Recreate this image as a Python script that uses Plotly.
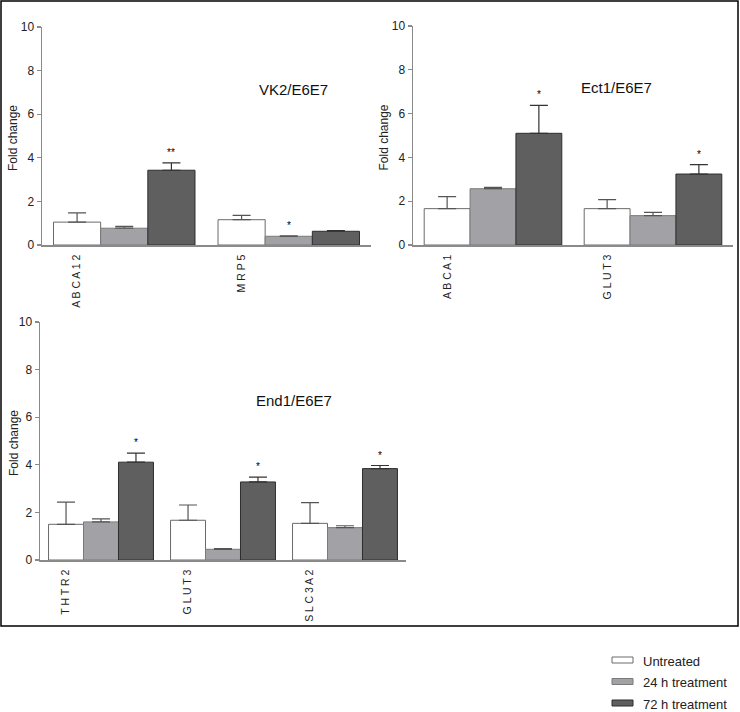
import plotly.graph_objects as go

W, H = 740, 712

# ---------------- data ----------------
series_names = ["Untreated", "24 h treatment", "72 h treatment"]

vk2_genes = ["ABCA12", "MRP5"]
vk2_untreated = [1.05, 1.16]
vk2_untreated_err = [0.42, 0.20]
vk2_24h = [0.77, 0.40]
vk2_24h_err = [0.08, 0.02]
vk2_72h = [3.43, 0.63]
vk2_72h_err = [0.34, 0.03]
vk2_stars = [["", "", "**"], ["", "*", ""]]

ect1_genes = ["ABCA1", "GLUT3"]
ect1_untreated = [1.66, 1.66]
ect1_untreated_err = [0.55, 0.41]
ect1_24h = [2.57, 1.34]
ect1_24h_err = [0.06, 0.15]
ect1_72h = [5.10, 3.24]
ect1_72h_err = [1.28, 0.43]
ect1_stars = [["", "", "*"], ["", "", "*"]]

end1_genes = ["THTR2", "GLUT3", "SLC3A2"]
end1_untreated = [1.50, 1.67, 1.54]
end1_untreated_err = [0.93, 0.64, 0.87]
end1_24h = [1.60, 0.45, 1.36]
end1_24h_err = [0.13, 0.03, 0.08]
end1_72h = [4.11, 3.28, 3.84]
end1_72h_err = [0.38, 0.20, 0.13]
end1_stars = [["", "", "*"], ["", "", "*"], ["", "", "*"]]

y_ticks = [0, 2, 4, 6, 8, 10]

# ---------------- style ----------------
fills = ["#ffffff", "#a2a2a6", "#5f5f5f"]
edges = ["#6a6a6a", "#7a7a7a", "#2e2e2e"]
errcols = ["#555555", "#555555", "#333333"]
AXCOL = "#8a8a8a"
SANS = "Liberation Sans, Arial, sans-serif"
NARROW = "Liberation Sans Narrow, Arial Narrow, Liberation Sans, Arial, sans-serif"
BARGAP = 0.14


def px_x(p):
    return p / W


def px_y(p):
    return 1 - p / H


panels = [
    dict(title="VK2/E6E7", genes=vk2_genes,
         vals=[vk2_untreated, vk2_24h, vk2_72h],
         errs=[vk2_untreated_err, vk2_24h_err, vk2_72h_err],
         stars=vk2_stars, xdom=(42, 371), ydom=(27, 245),
         title_xy=(293, 89), ytitle_x=13, tickfont=NARROW),
    dict(title="Ect1/E6E7", genes=ect1_genes,
         vals=[ect1_untreated, ect1_24h, ect1_72h],
         errs=[ect1_untreated_err, ect1_24h_err, ect1_72h_err],
         stars=ect1_stars, xdom=(413, 733), ydom=(26, 245),
         title_xy=(616, 88), ytitle_x=383, tickfont=SANS),
    dict(title="End1/E6E7", genes=end1_genes,
         vals=[end1_untreated, end1_24h, end1_72h],
         errs=[end1_untreated_err, end1_24h_err, end1_72h_err],
         stars=end1_stars, xdom=(40, 406), ydom=(322, 560),
         title_xy=(294, 400), ytitle_x=14, tickfont=NARROW),
]

fig = go.Figure()
annotations = []
shapes = []
bw = (1 - BARGAP) / 3

for k, p in enumerate(panels):
    idx = "" if k == 0 else str(k + 1)
    xa, ya = "x" + idx, "y" + idx
    n = len(p["genes"])
    xs = list(range(n))
    for s in range(3):
        fig.add_trace(go.Bar(
            x=xs, y=p["vals"][s], name=series_names[s], xaxis=xa, yaxis=ya,
            marker=dict(color=fills[s], line=dict(color=edges[s], width=1)),
            error_y=dict(type="data", array=p["errs"][s], arrayminus=[0] * n,
                         symmetric=False, color=errcols[s], thickness=1.2, width=9),
            showlegend=False, hoverinfo="skip"))
        # significance marks
        for i in range(n):
            st = p["stars"][i][s]
            if st:
                annotations.append(dict(
                    x=i + (s - 1) * bw, y=p["vals"][s][i] + p["errs"][s][i],
                    xref=xa, yref=ya, text=st, showarrow=False,
                    xanchor="center", yanchor="bottom", yshift=3,
                    font=dict(family=SANS, size=10, color="#000000")))
    x0, x1 = p["xdom"]
    y0, y1 = p["ydom"]
    fig.update_layout(**{
        "xaxis" + idx: dict(
            domain=[px_x(x0), px_x(x1)], anchor=ya, range=[-0.5, n - 0.5],
            automargin=False,
            showline=True, linecolor=AXCOL, linewidth=1.5, showgrid=False,
            zeroline=False, ticks="", tickangle=-90, ticklabelstandoff=4,
            tickvals=[i - bw for i in xs],
            ticktext=[" ".join(g) for g in p["genes"]],
            tickfont=dict(family=SANS, size=10.5, color="#222222"), fixedrange=True),
        "yaxis" + idx: dict(
            domain=[px_y(y1), px_y(y0)], anchor=xa, range=[0, 10],
            automargin=False,
            tickvals=y_ticks, showline=True, linecolor=AXCOL, linewidth=1.5,
            showgrid=False, zeroline=False, ticks="outside", ticklen=4,
            tickcolor=AXCOL, tickwidth=1.2,
            tickfont=dict(family=p["tickfont"], size=12, color="#222222"),
            fixedrange=True),
    })
    tx, ty = p["title_xy"]
    annotations.append(dict(x=px_x(tx), y=px_y(ty), xref="paper", yref="paper",
                            text=p["title"], showarrow=False,
                            xanchor="center", yanchor="middle",
                            font=dict(family=SANS, size=15, color="#111111")))
    annotations.append(dict(x=px_x(p["ytitle_x"]), y=px_y((y0 + y1) / 2 + 2),
                            xref="paper", yref="paper", text="Fold change",
                            textangle=-90, showarrow=False,
                            xanchor="center", yanchor="middle",
                            font=dict(family=SANS, size=12, color="#222222")))

# outer frame
shapes.append(dict(type="rect", xref="paper", yref="paper",
                   x0=px_x(1), x1=px_x(738), y0=px_y(626), y1=px_y(1),
                   line=dict(color="#000000", width=1.5)))

# legend
leg_rows = [660, 681.5, 703]
for s, yy in enumerate(leg_rows):
    shapes.append(dict(type="rect", xref="paper", yref="paper",
                       x0=px_x(612), x1=px_x(633), y0=px_y(yy + 3), y1=px_y(yy - 3),
                       fillcolor=fills[s], line=dict(color=edges[s], width=1)))
    annotations.append(dict(x=px_x(642), y=px_y(yy + 1), xref="paper", yref="paper",
                            text=series_names[s], showarrow=False,
                            xanchor="left", yanchor="middle", borderpad=0,
                            font=dict(family=SANS, size=13, color="#222222")))

fig.update_layout(
    width=W, height=H, autosize=False,
    margin=dict(l=0, r=0, t=0, b=0, pad=0, autoexpand=False),
    paper_bgcolor="white", plot_bgcolor="white",
    barmode="group", bargap=BARGAP, bargroupgap=0,
    annotations=annotations, shapes=shapes, showlegend=False,
)

fig.write_html("out.html",
               config={"displayModeBar": False, "staticPlot": True},
               post_script="document.body.style.margin='0';"
                           "document.body.style.overflow='hidden';")
